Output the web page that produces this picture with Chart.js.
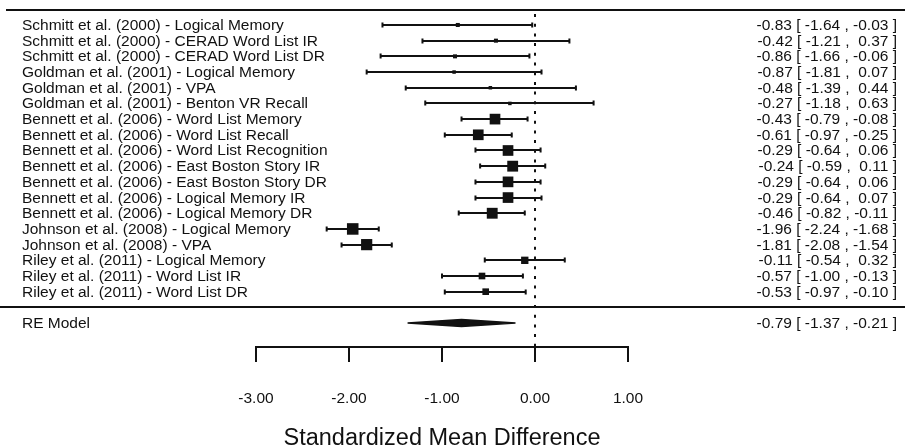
<!DOCTYPE html>
<html>
<head>
<meta charset="utf-8">
<title>Forest plot</title>
<script src="https://cdn.jsdelivr.net/npm/chart.js@4.4.1/dist/chart.umd.min.js"></script>
<style>
  html, body { margin: 0; padding: 0; background: #fff; }
  #wrap { width: 905px; height: 446px; }
</style>
</head>
<body>
<div id="wrap"><canvas id="forestChart" width="905" height="446"></canvas></div>
<script>
// study labels, top to bottom
const studies = [
  'Schmitt et al. (2000) - Logical Memory',
  'Schmitt et al. (2000) - CERAD Word List IR',
  'Schmitt et al. (2000) - CERAD Word List DR',
  'Goldman et al. (2001) - Logical Memory',
  'Goldman et al. (2001) - VPA',
  'Goldman et al. (2001) - Benton VR Recall',
  'Bennett et al. (2006) - Word List Memory',
  'Bennett et al. (2006) - Word List Recall',
  'Bennett et al. (2006) - Word List Recognition',
  'Bennett et al. (2006) - East Boston Story IR',
  'Bennett et al. (2006) - East Boston Story DR',
  'Bennett et al. (2006) - Logical Memory IR',
  'Bennett et al. (2006) - Logical Memory DR',
  'Johnson et al. (2008) - Logical Memory',
  'Johnson et al. (2008) - VPA',
  'Riley et al. (2011) - Logical Memory',
  'Riley et al. (2011) - Word List IR',
  'Riley et al. (2011) - Word List DR'
];
const estimates = [-0.83, -0.42, -0.86, -0.87, -0.48, -0.27, -0.43, -0.61, -0.29, -0.24, -0.29, -0.29, -0.46, -1.96, -1.81, -0.11, -0.57, -0.53];
const lower     = [-1.64, -1.21, -1.66, -1.81, -1.39, -1.18, -0.79, -0.97, -0.64, -0.59, -0.64, -0.64, -0.82, -2.24, -2.08, -0.54, -1.00, -0.97];
const upper     = [-0.03,  0.37, -0.06,  0.07,  0.44,  0.63, -0.08, -0.25,  0.06,  0.11,  0.06,  0.07, -0.11, -1.68, -1.54,  0.32, -0.13, -0.10];
// relative study weights
const weights   = [1.15, 1.15, 1.15, 1.0, 1.0, 1.0, 3.05, 3.05, 3.05, 3.1, 3.05, 3.05, 3.1, 3.3, 3.2, 2.1, 1.9, 1.9];

const pooledLabel = 'RE Model';
const pooledEstimate = -0.79;
const pooledLower = -1.37;
const pooledUpper = -0.21;

const tickValues = [-3, -2, -1, 0, 1];
const axisTitle = 'Standardized Mean Difference';

const INK = '#111111';
const FONT = '"Liberation Sans", Arial, Helvetica, sans-serif';
const rows = studies.map((_, i) => studies.length - i); // 18 .. 1
const pooledRow = -1;
const axisRow = -2.5;

function fmt(v) {
  const s = v.toFixed(2);
  return v < 0 ? s : ' ' + s;
}
function annotation(e, lb, ub) {
  return fmt(e) + ' [ ' + fmt(lb) + ' , ' + fmt(ub) + ' ]';
}
function hline(ctx, x1, x2, y, w) {
  ctx.beginPath();
  ctx.lineWidth = w;
  ctx.moveTo(x1, y);
  ctx.lineTo(x2, y);
  ctx.stroke();
}

const forestPlugin = {
  id: 'forest',
  beforeDatasetsDraw(chart) {
    const { ctx, scales: { x, y } } = chart;
    ctx.save();
    ctx.strokeStyle = INK;
    // dotted line at zero
    const zx = Math.round(x.getPixelForValue(0));
    ctx.setLineDash([3, 6.7]);
    ctx.lineWidth = 2;
    ctx.beginPath();
    ctx.moveTo(zx, y.getPixelForValue(18.7));
    ctx.lineTo(zx, y.getPixelForValue(axisRow));
    ctx.stroke();
    ctx.setLineDash([]);
    // confidence intervals
    rows.forEach((r, i) => {
      const py = Math.round(y.getPixelForValue(r));
      const x1 = x.getPixelForValue(lower[i]);
      const x2 = x.getPixelForValue(upper[i]);
      hline(ctx, x1, x2, py, 2);
      ctx.lineWidth = 2;
      ctx.beginPath();
      ctx.moveTo(x1, py - 2.5); ctx.lineTo(x1, py + 2.5);
      ctx.moveTo(x2, py - 2.5); ctx.lineTo(x2, py + 2.5);
      ctx.stroke();
    });
    ctx.restore();
  },
  afterDatasetsDraw(chart) {
    const { ctx, scales: { x, y } } = chart;
    ctx.save();
    ctx.strokeStyle = INK;
    ctx.fillStyle = INK;

    // top rule and separator
    hline(ctx, 6, 905, Math.round(y.getPixelForValue(19)) + 1, 2);
    hline(ctx, 0, 905, Math.round(y.getPixelForValue(0)), 2);

    // labels and annotations
    ctx.font = '15.5px ' + FONT;
    ctx.textBaseline = 'alphabetic';
    rows.forEach((r, i) => {
      const py = y.getPixelForValue(r) + 5;
      ctx.textAlign = 'left';
      ctx.fillText(studies[i], 22, py);
      ctx.textAlign = 'right';
      ctx.fillText(annotation(estimates[i], lower[i], upper[i]), 897, py);
    });
    const pr = y.getPixelForValue(pooledRow);
    ctx.textAlign = 'left';
    ctx.fillText(pooledLabel, 22, pr + 5);
    ctx.textAlign = 'right';
    ctx.fillText(annotation(pooledEstimate, pooledLower, pooledUpper), 897, pr + 5);

    // summary diamond
    ctx.lineWidth = 1.5;
    ctx.lineJoin = 'miter';
    ctx.beginPath();
    ctx.moveTo(x.getPixelForValue(pooledLower), pr);
    ctx.lineTo(x.getPixelForValue(pooledEstimate), pr - 3.5);
    ctx.lineTo(x.getPixelForValue(pooledUpper), pr);
    ctx.lineTo(x.getPixelForValue(pooledEstimate), pr + 3.5);
    ctx.closePath();
    ctx.fill();
    ctx.stroke();

    // x axis
    const ay = Math.round(y.getPixelForValue(axisRow));
    const first = x.getPixelForValue(tickValues[0]);
    const last = x.getPixelForValue(tickValues[tickValues.length - 1]);
    hline(ctx, first - 1, last + 1, ay, 2);
    ctx.lineWidth = 2;
    ctx.beginPath();
    tickValues.forEach(t => {
      const px = Math.round(x.getPixelForValue(t));
      ctx.moveTo(px, ay);
      ctx.lineTo(px, ay + 15);
    });
    ctx.stroke();
    ctx.textAlign = 'center';
    ctx.font = '15.5px ' + FONT;
    tickValues.forEach(t => {
      ctx.fillText(t.toFixed(2), x.getPixelForValue(t), ay + 56);
    });
    ctx.font = '23.5px ' + FONT;
    ctx.fillText(axisTitle, x.getPixelForValue(-1), 445);
    ctx.restore();
  }
};

new Chart(document.getElementById('forestChart').getContext('2d'), {
  type: 'scatter',
  data: {
    datasets: [{
      data: estimates.map((e, i) => ({ x: e, y: rows[i] })),
      pointStyle: 'rect',
      pointRadius: ctx => (3.5 * weights[ctx.dataIndex]) / Math.SQRT2,
      pointHoverRadius: ctx => (3.5 * weights[ctx.dataIndex]) / Math.SQRT2,
      backgroundColor: INK,
      borderWidth: 0
    }]
  },
  options: {
    responsive: false,
    animation: false,
    layout: { padding: 0, autoPadding: false },
    plugins: {
      legend: { display: false },
      tooltip: { enabled: false }
    },
    scales: {
      x: { type: 'linear', display: false, min: -535 / 93, max: 370 / 93 },
      y: { type: 'linear', display: false, min: 1 - (446 - 291.7) / 15.69, max: 1 + 291.7 / 15.69 }
    }
  },
  plugins: [forestPlugin]
});
</script>
</body>
</html>
